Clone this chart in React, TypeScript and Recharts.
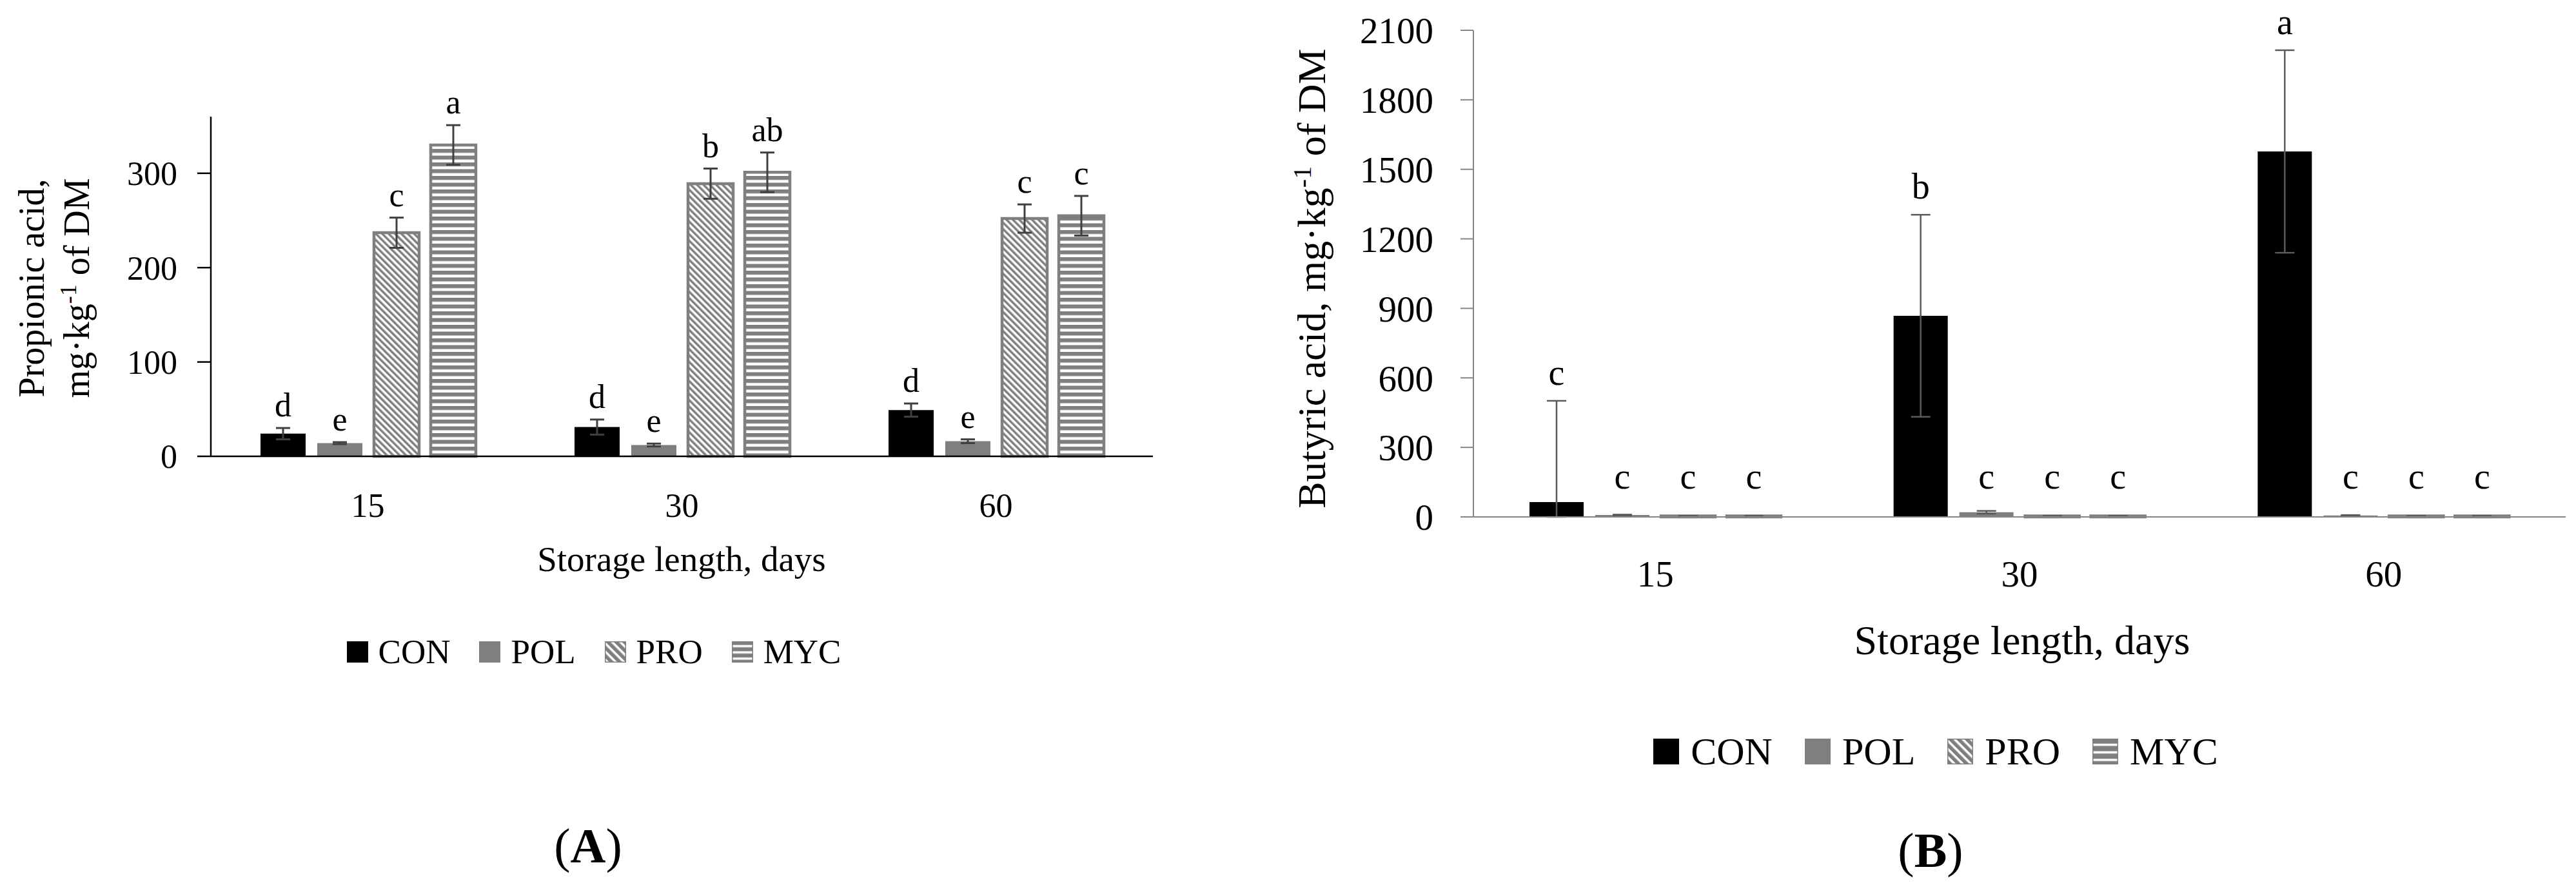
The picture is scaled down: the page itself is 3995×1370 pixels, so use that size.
import { BarChart, Bar, XAxis, YAxis, ErrorBar, LabelList } from "recharts";

const FONT = "'Palatino Linotype', 'Book Antiqua', Palatino, 'Liberation Serif', serif";

const days = ["15", "30", "60"];
const treatments = ["CON", "POL", "PRO", "MYC"];

// (A) propionic acid, mg/kg DM
const propCON = [24, 31, 49];
const propCONsd = [6, 8, 7];
const propPOL = [14, 12, 16];
const propPOLsd = [1, 1.5, 2];
const propPRO = [237, 289, 252];
const propPROsd = [16, 16, 15];
const propMYC = [330, 301, 255];
const propMYCsd = [21, 21, 21];
const propLetters: Record<string, string[]> = {
  CON: ["d", "d", "d"],
  POL: ["e", "e", "e"],
  PRO: ["c", "b", "c"],
  MYC: ["a", "ab", "c"],
};
const propTicks = [0, 100, 200, 300];

// (B) butyric acid, mg/kg DM
const butCON = [64, 868, 1577];
const butCONsd = [437, 436, 437];
const butPOL = [8, 20, 6];
const butPOLsd = [2, 6, 2];
const butPRO = [4, 4, 4];
const butPROsd = [1, 1, 1];
const butMYC = [4, 4, 4];
const butMYCsd = [1, 1, 1];
const butLetters: Record<string, string[]> = {
  CON: ["c", "b", "a"],
  POL: ["c", "c", "c"],
  PRO: ["c", "c", "c"],
  MYC: ["c", "c", "c"],
};
const butTicks = [0, 300, 600, 900, 1200, 1500, 1800, 2100];

const propVals: Record<string, number[]> = { CON: propCON, POL: propPOL, PRO: propPRO, MYC: propMYC };
const propSds: Record<string, number[]> = { CON: propCONsd, POL: propPOLsd, PRO: propPROsd, MYC: propMYCsd };
const butVals: Record<string, number[]> = { CON: butCON, POL: butPOL, PRO: butPRO, MYC: butMYC };
const butSds: Record<string, number[]> = { CON: butCONsd, POL: butPOLsd, PRO: butPROsd, MYC: butMYCsd };

const buildRows = (vals: Record<string, number[]>, sds: Record<string, number[]>, letters: Record<string, string[]>) =>
  days.map((day, i) => {
    const row: Record<string, any> = { day };
    treatments.forEach((t) => {
      row[t] = vals[t][i];
      // lower whisker stops at the axis (Excel clips it there)
      row[t + "sd"] = [Math.min(sds[t][i], vals[t][i]), sds[t][i]];
      row[t + "let"] = letters[t][i];
    });
    return row;
  });

const dataA = buildRows(propVals, propSds, propLetters);
const dataB = buildRows(butVals, butSds, butLetters);

const makeLetter =
  (sd: number[], pxPerUnit: number, gap: number, minGap: number, size: number) => (props: any) => {
    const vb = props.viewBox && props.viewBox.width != null ? props.viewBox : props;
    const { x, y, width, height } = vb;
    const i = props.index ?? 0;
    const top = Math.min(y, y + height);
    const zeroY = Math.max(y, y + height);
    const base = Math.min(top - (sd[i] ?? 0) * pxPerUnit - gap, zeroY - minGap);
    return (
      <text x={x + width / 2} y={base} textAnchor="middle" fontSize={size} fontFamily={FONT} fill="#000">
        {props.value}
      </text>
    );
  };

const barStyle = (panel: string, t: string) => {
  if (t === "CON") return { fill: "#000000" };
  if (t === "POL") return { fill: "#7f7f7f" };
  if (t === "PRO") return { fill: `url(#pro${panel})`, stroke: "#7f7f7f", strokeWidth: 4.5 };
  return { fill: `url(#myc${panel})`, stroke: "#7f7f7f", strokeWidth: 4.5 };
};

const Patterns = ({ panel, stripe, hstripe }: { panel: string; stripe: number; hstripe: number }) => (
  <defs>
    <pattern id={`pro${panel}`} patternUnits="userSpaceOnUse" width={stripe} height={stripe} patternTransform="rotate(-45)">
      <rect width={stripe} height={stripe} fill="#ffffff" />
      <rect width={stripe / 2} height={stripe} fill="#7f7f7f" />
    </pattern>
    <pattern id={`myc${panel}`} patternUnits="userSpaceOnUse" width={hstripe} height={hstripe}>
      <rect width={hstripe} height={hstripe} fill="#ffffff" />
      <rect width={hstripe} height={hstripe * 0.58} fill="#7f7f7f" />
    </pattern>
  </defs>
);

const Swatch = ({ t, size, id }: { t: string; size: number; id: string }) => (
  <svg width={size} height={size} style={{ display: "block", flex: "none" }}>
    <defs>
      <pattern id={`lp${id}`} patternUnits="userSpaceOnUse" width={9} height={9} patternTransform="rotate(-45)">
        <rect width={9} height={9} fill="#ffffff" />
        <rect width={5.5} height={9} fill="#7f7f7f" />
      </pattern>
      <pattern id={`lm${id}`} patternUnits="userSpaceOnUse" width={size} height={size / 3.4}>
        <rect width={size} height={size} fill="#7f7f7f" />
        <rect y={size / 3.4 - 4} width={size} height={3.5} fill="#ffffff" />
      </pattern>
    </defs>
    <rect
      width={size}
      height={size}
      fill={t === "CON" ? "#000" : t === "POL" ? "#7f7f7f" : t === "PRO" ? `url(#lp${id})` : `url(#lm${id})`}
      stroke={t === "PRO" || t === "MYC" ? "#7f7f7f" : "none"}
      strokeWidth={3}
    />
  </svg>
);

const LegendRow = ({ center, top, font, size, gap, itemGap, id }: any) => (
  <div
    style={{
      position: "absolute",
      left: center - 700,
      width: 1400,
      top,
      height: font,
      display: "flex",
      justifyContent: "center",
      alignItems: "center",
      fontFamily: FONT,
      fontSize: font,
      lineHeight: 1,
      color: "#000",
    }}
  >
    {treatments.map((t, i) => (
      <div key={t} style={{ display: "flex", alignItems: "center", marginLeft: i === 0 ? 0 : itemGap }}>
        <Swatch t={t} size={size} id={id + t} />
        <span style={{ marginLeft: gap, whiteSpace: "nowrap" }}>{t}</span>
      </div>
    ))}
  </div>
);

const PX_A = 527 / 360;
const PX_B = 755 / 2100;

export default function App() {
  return (
    <div style={{ position: "absolute", left: 0, top: 0, width: 3995, height: 1370, background: "#fff", overflow: "hidden" }}>
      {/* panel A */}
      <div style={{ position: "absolute", left: 0, top: 0 }}>
        <BarChart
          width={1842}
          height={1370}
          data={dataA}
          margin={{ top: 181, right: 54, bottom: 562, left: 227 }}
          barGap={18}
          barSize={70}
        >
          <Patterns panel="A" stripe={7} hstripe={10.5} />
          <XAxis
            dataKey="day"
            height={100}
            axisLine={{ stroke: "#000", strokeWidth: 2.5 }}
            tickLine={false}
            tickSize={0}
            tickMargin={57}
            tick={{ fontSize: 52, fill: "#000", fontFamily: FONT }}
          />
          <YAxis
            width={100}
            domain={[0, 360]}
            ticks={propTicks}
            interval={0}
            axisLine={{ stroke: "#000", strokeWidth: 2.5 }}
            tickLine={{ stroke: "#000", strokeWidth: 2.5 }}
            tickSize={21}
            tickMargin={31}
            tick={{ fontSize: 52, fill: "#000", fontFamily: FONT }}
          />
          {treatments.map((t) => (
            <Bar key={t} dataKey={t} {...barStyle("A", t)} isAnimationActive={false}>
              <ErrorBar dataKey={t + "sd"} direction="y" width={11} strokeWidth={3} stroke="#404040" isAnimationActive={false} />
              <LabelList dataKey={t + "let"} content={makeLetter(propSds[t], PX_A, 18, 0, 52)} />
            </Bar>
          ))}
        </BarChart>
      </div>

      {/* panel B */}
      <div style={{ position: "absolute", left: 1980, top: 0 }}>
        <BarChart
          width={2015}
          height={1370}
          data={dataB}
          margin={{ top: 47, right: 16, bottom: 468, left: 205 }}
          barGap={18}
          barSize={84}
        >
          <Patterns panel="B" stripe={7} hstripe={10.5} />
          <XAxis
            dataKey="day"
            height={100}
            axisLine={{ stroke: "#868686", strokeWidth: 2 }}
            tickLine={false}
            tickSize={0}
            tickMargin={68}
            tick={{ fontSize: 57, fill: "#000", fontFamily: FONT }}
          />
          <YAxis
            width={100}
            domain={[0, 2100]}
            ticks={butTicks}
            interval={0}
            axisLine={{ stroke: "#868686", strokeWidth: 2 }}
            tickLine={{ stroke: "#868686", strokeWidth: 2 }}
            tickSize={20}
            tickMargin={42}
            tick={{ fontSize: 57, fill: "#000", fontFamily: FONT }}
          />
          {treatments.map((t) => (
            <Bar key={t} dataKey={t} {...barStyle("B", t)} isAnimationActive={false}>
              <ErrorBar dataKey={t + "sd"} direction="y" width={15} strokeWidth={2.5} stroke="#5a5a5a" isAnimationActive={false} />
              <LabelList dataKey={t + "let"} content={makeLetter(butSds[t], PX_B, 25, 44, 56)} />
            </Bar>
          ))}
        </BarChart>
      </div>

      {/* titles */}
      <svg width={3995} height={1370} style={{ position: "absolute", left: 0, top: 0, pointerEvents: "none" }}>
        <g fontFamily={FONT} fill="#000">
          <text transform="translate(68,447) rotate(-90)" textAnchor="middle" fontSize={56}>
            Propionic acid,
          </text>
          <text transform="translate(138,447) rotate(-90)" textAnchor="middle" fontSize={56}>
            mg·kg
            <tspan dy={-20} fontSize={36}>
              -1
            </tspan>
            <tspan dy={20}> of DM</tspan>
          </text>
          <text x={1057} y={886} textAnchor="middle" fontSize={55}>
            Storage length, days
          </text>
          <text x={912} y={1338} textAnchor="middle" fontSize={76}>
            (<tspan fontWeight="bold">A</tspan>)
          </text>

          <text transform="translate(2055,432) rotate(-90)" textAnchor="middle" fontSize={62}>
            Butyric acid, mg·kg
            <tspan dy={-22} fontSize={40}>
              -1
            </tspan>
            <tspan dy={22}> of DM</tspan>
          </text>
          <text x={3136} y={1015} textAnchor="middle" fontSize={64}>
            Storage length, days
          </text>
          <text x={2994} y={1345} textAnchor="middle" fontSize={76}>
            (<tspan fontWeight="bold">B</tspan>)
          </text>
        </g>
      </svg>

      <LegendRow center={921} top={985} font={53} size={33} gap={16} itemGap={45} id="A" />
      <LegendRow center={3002} top={1136} font={60} size={40} gap={18} itemGap={50} id="B" />
    </div>
  );
}
